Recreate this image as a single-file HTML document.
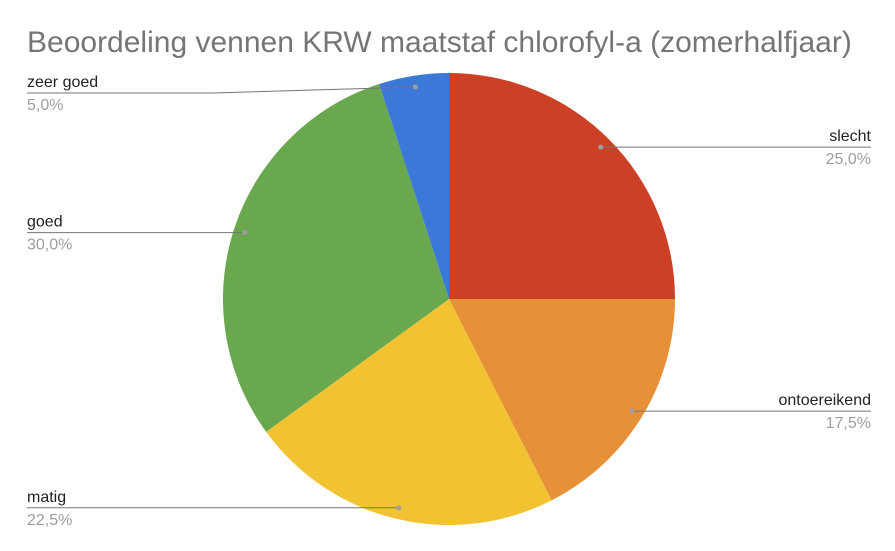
<!DOCTYPE html>
<html><head><meta charset="utf-8"><style>
body{margin:0;background:#fff;}
svg{display:block;font-family:"Liberation Sans",Arial,sans-serif;}
</style></head><body>
<svg id="chart" width="895" height="551" viewBox="0 0 895 551">
<rect width="895" height="551" fill="#fff"/>
<text x="27" y="52" font-size="30" fill="#757575">Beoordeling vennen KRW maatstaf chlorofyl-a (zomerhalfjaar)</text>
<g id="slices"></g><g id="labels"></g>
</svg>
<script>
const categories = ["slecht","ontoereikend","matig","goed","zeer goed"];
const values = [25.0,17.5,22.5,30.0,5.0];
const pctLabels = ["25,0%","17,5%","22,5%","30,0%","5,0%"];
const colors = ["#cc4125","#e69138","#f1c232","#6aa84f","#3c78d8"];
const cx=449, cy=299, r=226;
const NS="http://www.w3.org/2000/svg";
const gS=document.getElementById('slices'), gL=document.getElementById('labels');
const total=values.reduce((a,b)=>a+b,0);
function pt(a,rr){return [cx+rr*Math.sin(a), cy-rr*Math.cos(a)];}
let acc=0;
values.forEach((v,i)=>{
  const a0=acc/total*2*Math.PI; acc+=v; const a1=acc/total*2*Math.PI;
  const p0=pt(a0,r), p1=pt(a1,r), large=(a1-a0)>Math.PI?1:0;
  const p=document.createElementNS(NS,'path');
  p.setAttribute('d',`M${cx},${cy}L${p0[0]},${p0[1]}A${r},${r} 0 ${large} 1 ${p1[0]},${p1[1]}Z`);
  p.setAttribute('fill',colors[i]);
  
  
  gS.appendChild(p);
  const am=(a0+a1)/2, d=pt(am,r*0.95);
  const right=Math.sin(am)>0;
  const ex=right?871:27;
  const yy = right ? d[1] : Math.max(d[1],93);
  const line=document.createElementNS(NS,'polyline');
  line.setAttribute('points',right?`${d[0]},${d[1]} ${ex},${yy}`:`${d[0]},${d[1]} 213,${yy} ${ex},${yy}`);
  line.setAttribute('fill','none');line.setAttribute('stroke','#757575');line.setAttribute('stroke-width','1');
  
  
  gL.appendChild(line);
  const dot=document.createElementNS(NS,'circle');
  dot.setAttribute('cx',d[0]);dot.setAttribute('cy',d[1]);dot.setAttribute('r',2.5);dot.setAttribute('fill','#9e9e9e');
  
  
  gL.appendChild(dot);
  const t=document.createElementNS(NS,'text');
  t.setAttribute('x',ex);t.setAttribute('y',yy-6);t.setAttribute('font-size','16');t.setAttribute('fill','#222');
  t.setAttribute('text-anchor',right?'end':'start');t.textContent=categories[i];
  
  
  gL.appendChild(t);
  const t2=document.createElementNS(NS,'text');
  t2.setAttribute('x',ex);t2.setAttribute('y',yy+17);t2.setAttribute('font-size','16');t2.setAttribute('fill','#9e9e9e');
  t2.setAttribute('text-anchor',right?'end':'start');t2.textContent=pctLabels[i];
  
  
  gL.appendChild(t2);
});
</script>
</body></html>
